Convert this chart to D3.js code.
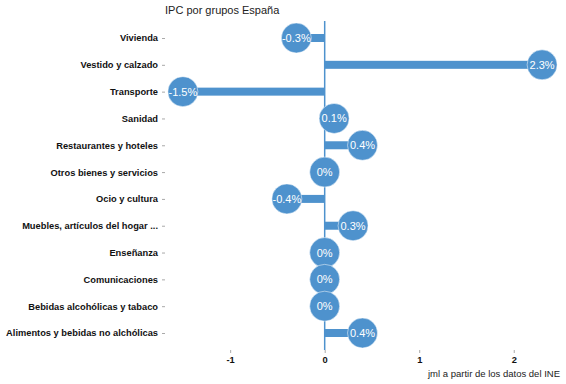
<!DOCTYPE html>
<html>
<head>
<meta charset="utf-8">
<script src="https://cdn.jsdelivr.net/npm/d3@7"></script>
<style>
  body { margin: 0; background: #fff; }
  text { font-family: "Liberation Sans", Arial, sans-serif; }
</style>
</head>
<body>
<div id="chart"></div>
<script>
var categories = ["Vivienda", "Vestido y calzado", "Transporte", "Sanidad",
  "Restaurantes y hoteles", "Otros bienes y servicios", "Ocio y cultura",
  "Muebles, artículos del hogar ...", "Enseñanza", "Comunicaciones",
  "Bebidas alcohólicas y tabaco", "Alimentos y bebidas no alchólicas"];
var values = [-0.3, 2.3, -1.5, 0.1, 0.4, 0, -0.4, 0.3, 0, 0, 0, 0.4];
var xTicks = [-1, 0, 1, 2];

var width = 566, height = 384;
var color = "#4e92cd";

var data = categories.map(function (c, i) { return { cat: c, value: values[i] }; });

var svg = d3.select("#chart").append("svg")
  .attr("width", width)
  .attr("height", height);

var x = d3.scaleLinear().domain([-1.7, 2.5]).range([164, 561]);
var y = d3.scalePoint().domain(categories).range([38, 333]);

// title
svg.append("text")
  .attr("x", 165).attr("y", 14)
  .style("font-size", "11px")
  .attr("fill", "#222")
  .text("IPC por grupos España");

// y axis (labels + small ticks)
var yAxis = svg.append("g")
  .attr("transform", "translate(165,0)")
  .call(d3.axisLeft(y).tickSize(3).tickPadding(4));
yAxis.select(".domain").remove();
yAxis.selectAll(".tick line").attr("stroke", "#aaa");
yAxis.selectAll(".tick text")
  .style("font-size", "9.3px")
  .style("font-weight", "bold")
  .style("font-family", '"Liberation Sans", Arial, sans-serif')
  .attr("fill", "#111");

// x axis
var xAxis = svg.append("g")
  .attr("transform", "translate(0,350)")
  .call(d3.axisBottom(x).tickValues(xTicks).tickSize(3).tickPadding(3)
    .tickFormat(function (d) { return String(d); }));
xAxis.select(".domain").remove();
xAxis.selectAll(".tick line").attr("stroke", "#aaa");
xAxis.selectAll(".tick text")
  .style("font-size", "9.3px")
  .style("font-weight", "bold")
  .style("font-family", '"Liberation Sans", Arial, sans-serif')
  .attr("fill", "#111");

// zero line
svg.append("line")
  .attr("x1", x(0)).attr("x2", x(0))
  .attr("y1", 21).attr("y2", 350)
  .attr("stroke", color)
  .attr("stroke-width", 1.5);

// bars
svg.selectAll(".bar")
  .data(data)
  .enter().append("rect")
  .attr("class", "bar")
  .attr("x", function (d) { return Math.min(x(0), x(d.value)); })
  .attr("width", function (d) { return Math.abs(x(d.value) - x(0)); })
  .attr("y", function (d) { return y(d.cat) - 4; })
  .attr("height", 8)
  .attr("fill", color);

// lollipop heads
svg.selectAll(".dot")
  .data(data)
  .enter().append("circle")
  .attr("class", "dot")
  .attr("cx", function (d) { return x(d.value); })
  .attr("cy", function (d) { return y(d.cat); })
  .attr("r", 15)
  .attr("fill", color)
  .attr("stroke", "#fff")
  .attr("stroke-width", 0.5);

svg.selectAll(".lbl")
  .data(data)
  .enter().append("text")
  .attr("class", "lbl")
  .attr("x", function (d) { return x(d.value); })
  .attr("y", function (d) { return y(d.cat) + 4; })
  .attr("text-anchor", "middle")
  .attr("fill", "#fff")
  .style("font-size", "11px")
  .text(function (d) { return d.value + "%"; });

// caption
svg.append("text")
  .attr("x", 560).attr("y", 377)
  .attr("text-anchor", "end")
  .style("font-size", "9.5px")
  .attr("fill", "#222")
  .text("jml a partir de los datos del INE");
</script>
</body>
</html>
